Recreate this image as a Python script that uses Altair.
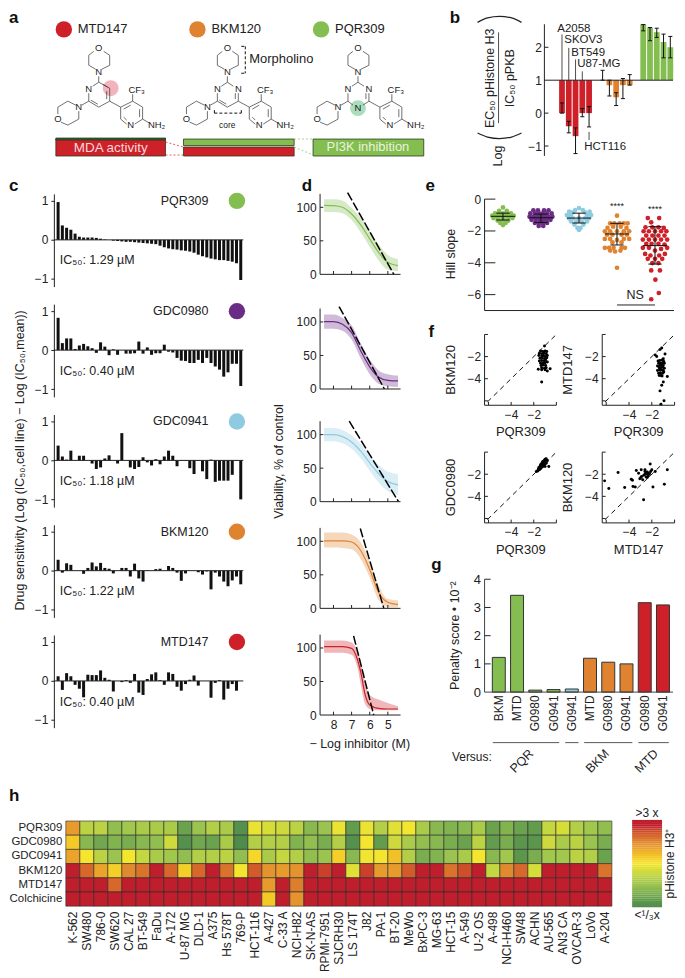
import altair as alt
import pandas as pd

INK = "#222222"
GREEN, PURPLE, BLUE, ORANGE, RED = "#84BD50", "#6B2C85", "#8FCBE0", "#E08330", "#CE2029"
FONT = "Liberation Sans"

# ---------- panel a: legend, molecule drawing in canvas units ----------
legend_a = [(63, 28, RED, "MTD147"), (197, 28, ORANGE, "BKM120"), (321, 28, GREEN, "PQR309")]
mol_dx = [0, 129, 260]
bonds_common = [(93,50,88,54),(88,54,88,64),(88,64,95,68),(101,68,109,64),(109,64,109,54),(109,54,103,50),
    (98,75,98,81),(88,100,81,104),(75,104,67,100),(67,100,57,106),(57,106,57,113),(60,121,67,124),
    (67,124,78,118),(78,118,78,110),(109,100,120,106),(120,106,132,100),(132,100,142,106),(142,106,142,118),
    (142,118,134,123),(126,123,120,118),(120,118,120,106),(132,100,132,93),(142,118,149,122),
    (123,108,130,104),(139,108,139,116),(123,116,126,119),(88,92,88,100)]
bonds_ring = [
    [(98,81,92,85),(98,81,109,87),(109,87,109,100),(109,100,98,106),(98,106,88,100),(102,83,107,86),(106,90,106,98),(97,103,90,99)],
    [(98,81,92,85),(98,81,104,85),(109,92,109,100),(109,100,98,106),(98,106,88,100),(106,92,106,98),(97,103,90,99)],
    [(98,81,92,85),(98,81,104,85),(109,92,109,100),(109,100,103,104),(93,104,88,100),(106,92,106,98)],
]
atoms_common = [(98,47,"O"),(98,71,"N"),(88,88,"N"),(57,118,"O"),(78,106,"N"),(136,89,"CF₃"),(130,124,"N"),(156,124,"NH₂")]
atoms_extra = [[], [(109,88,"N")], [(109,88,"N"),(98,107,"N")]]
highlights = [(110,87,"#F3B3BC"),(358,107,"#A9DDBB")]
boxes_a = [(55,165,138,155,RED),(55,165,137,139,"#2E5E2A"),(183,294,138,144.5,GREEN),(183,294,146,155,RED),(313,424,138,155,GREEN)]
links_red = [(165,141,183,146),(165,154,183,154)]
links_green = [(294,138,313,138),(294,146,313,154)]
brackets = [(245,45,245,72),(214,112,241,112)]
bracket_ticks = [(241,45,245,45),(241,72,245,72),(214,112,214,109),(241,112,241,109)]
labels_a = [(249,58,"Morpholino",13,"left","#222222"),(227,124,"core",8.5,"center","#222222"),
            (110,147,"MDA activity",13.5,"center","#F6D9D9"),(368,146,"PI3K inhibition",13,"center","#EAF3DE")]

# ---------- panel b ----------
b_pos = [0,1,2,3,4,6,7,8,9,10,12,13,14,15,16]
b_val = [0.0,-0.4,-0.7,0.0,0.0,1.0,0.85,0.48,0.85,0.85,2.7,2.6,2.46,2.16,2.0]
b_lo  = [-0.0,-0.6,-1.23,-0.11,-0.42,1.0,0.52,0.23,0.44,0.85,2.5,2.2,2.3,1.68,1.68]
b_hi  = [0.31,-0.25,-0.45,0.14,0.2,1.3,1.0,0.62,1.05,1.17,2.69,2.6,2.58,2.4,2.33]
b_col = [RED]*5+[ORANGE]*5+[GREEN]*5
b_lbl = [(-0.69,2.55,"A2058"),(0.34,2.21,"SKOV3"),(1.37,1.82,"BT549"),(2.25,1.48,"U87-MG"),(3.28,-1.03,"HCT116")]
b_lines = [(0,2.39,0,1),(1,1.98,1,1),(2,1.63,2,1),(3,1.27,3,1),(4,-0.57,4,-0.82)]

# ---------- panel c ----------
c_names = ["PQR309","GDC0980","GDC0941","BKM120","MTD147"]
c_cols = [GREEN,PURPLE,BLUE,ORANGE,RED]
c_ic = ["1.29","0.40","1.18","1.22","0.40"]
c_vals = [
 [.97,.37,.31,.26,.16,.08,.06,.06,.06,.05,.03,.01,0,-.02,-.03,-.04,-.05,-.05,-.06,-.07,-.08,-.09,-.1,-.11,-.15,-.19,-.22,-.24,-.25,-.27,-.28,-.3,-.33,-.38,-.42,-.45,-.48,-.5,-.52,-.52,-.54,-.56,-.6,-1.03],
 [.83,.18,.3,.3,.03,.12,.16,.1,.05,-.07,.2,.09,-.13,.02,-.12,0,-.09,-.09,-.08,.22,-.09,.07,-.12,-.08,-.08,.14,-.04,-.06,-.2,-.27,-.28,-.33,-.33,-.25,-.33,-.2,-.33,-.42,-.5,-.68,-.57,-.35,-.35,-.92],
 [.38,.1,.02,.25,0,.12,.12,0,-.08,-.22,-.18,.05,.13,0,-.08,.7,0,-.18,-.22,-.17,.08,-.05,-.13,.03,-.1,.1,.25,.12,-.15,-.01,-.01,-.2,-.35,-.01,-.28,-.48,.02,-.55,-.52,-.52,-.52,-.37,-.01,-1.0],
 [.28,-.05,.19,.15,0,0,-.08,.07,.21,.11,.2,.07,.05,-.07,0,.07,.07,-.15,.18,-.2,-.28,.01,0,.04,.05,0,.12,.07,-.05,-.26,-.07,0,0,-.04,-.1,-.02,-.48,-.05,-.15,-.28,-.4,-.25,-.15,-.35],
 [.12,-.23,.2,.12,-.1,-.2,-.42,.16,.15,.15,.27,.08,.03,-.27,0,-.03,.02,-.05,.18,-.3,-.36,.05,.17,.22,.02,-.1,.22,.18,-.15,-.25,-.08,.03,.14,-.12,0,0,-.43,-.05,.02,-.48,-.2,-.08,-.25,0],
]

# ---------- panel d ----------
d_x = [8.52,8,7.5,7,6.48,6,5.52,5,4.44]
d_y = [[103,102.5,100,90,73,53,33,18,13],[100.5,100.5,96.5,84,56,33,18,13,12],[100,100,97,89,75,58,42,30,25],
       [100.5,100.5,100.5,99,85.6,58,24,9,5.5]]
d_lo = [[93,93,91,81,62,41,21,7,5],[90,90,87,74,45,22,8,4,3],[90,90,87,79,64,46,29,16,10],[90.6,90.6,90,88,73,46,13,2,1.5]]
d_hi = [[112,112,110,99,84,65,45,29,23],[111,111,106,95,67,44,28,22,20],[110,110,107,99,86,70,55,45,41],[113,113,113,110,98,70,35,14,12]]
d5_x = [8.52,8,7.5,7,6.67,6.48,6.25,6,5.52,5,4.44]
d5_y = [102,102,102,99.5,82,62,30,15,10,9,9]
d5_lo = [93,93,93,90,70,43,16,9,7,7,7]
d5_hi = [111,111,111,108,95,79,48,30,23,18,13]
d_dash = [(7.22,122,4.67,0),(7.69,123,5.19,0),(7.13,120,4.41,0),(6.52,119,5.22,0),(6.89,118,5.78,0)]

# ---------- panel e ----------
e_green = [(0,-.52),(-.1,-.73),(.1,-.73),(-.21,-.9),(-.1,-.9),(0,-.9),(.1,-.9),(.21,-.9),(-.28,-1.04),(-.18,-1.04),(-.07,-1.04),(.07,-1.04),(.18,-1.04),(.28,-1.04),(-.25,-1.19),(-.14,-1.19),(0,-1.19),(.14,-1.19),(.25,-1.19),(-.14,-1.35),(-.04,-1.35),(.04,-1.35),(.14,-1.35),(-.07,-1.5),(.07,-1.5),(0,-1.63)]
e_purple = [(-.2,-.7),(-.08,-.7),(.08,-.7),(.2,-.7),(-.28,-.9),(-.16,-.9),(-.05,-.9),(.05,-.9),(.16,-.9),(.28,-.9),(-.3,-1.1),(-.2,-1.1),(-.1,-1.1),(0,-1.1),(.1,-1.1),(.2,-1.1),(.3,-1.1),(-.25,-1.3),(-.14,-1.3),(-.04,-1.3),(.06,-1.3),(.15,-1.3),(.25,-1.3),(-.16,-1.5),(-.05,-1.5),(.05,-1.5),(.16,-1.5),(-.06,-1.68),(.06,-1.68)]
e_blue = [(0,-.56),(-.1,-.69),(.1,-.69),(-.26,-.79),(-.16,-.83),(.16,-.83),(.28,-.79),(-.32,-1.0),(-.21,-1.0),(.21,-1.0),(.32,-1.0),(-.26,-1.21),(-.16,-1.21),(0,-1.21),(.16,-1.21),(.26,-1.21),(-.21,-1.4),(-.07,-1.4),(.07,-1.4),(.21,-1.4),(-.12,-1.6),(.12,-1.6),(-.04,-1.81),(.04,-1.81),(0,-1.94)]
e_orange = [(0,-1.04),(-.18,-1.52),(-.07,-1.52),(.07,-1.52),(.18,-1.52),(.28,-1.52),(-.1,-1.73),(.1,-1.73),(-.25,-1.81),(.25,-1.81),(-.32,-2.02),(-.18,-2.02),(0,-2.02),(.18,-2.02),(.32,-2.02),(-.26,-2.23),(-.12,-2.23),(.12,-2.23),(.26,-2.23),(-.32,-2.5),(-.18,-2.5),(0,-2.56),(.18,-2.5),(.32,-2.5),(-.12,-2.71),(.12,-2.71),(-.32,-3.06),(-.21,-3.06),(-.09,-3.06),(.12,-3.06),(.21,-3.06),(-.18,-3.23),(-.05,-3.29),(.09,-3.23),(0,-4.31)]
e_red = [(-.19,-1.19),(.11,-1.19),(-.1,-1.46),(-.25,-1.77),(-.07,-1.77),(.09,-1.77),(.23,-1.81),(-.3,-2.02),(-.16,-2.02),(0,-2.02),(.16,-2.02),(.3,-2.02),(-.23,-2.29),(-.07,-2.29),(.09,-2.29),(.25,-2.29),(-.32,-2.54),(-.16,-2.54),(0,-2.54),(.16,-2.54),(.32,-2.54),(-.23,-2.81),(-.09,-2.81),(.09,-2.81),(.25,-2.85),(-.32,-3.06),(-.16,-3.06),(0,-3.23),(.16,-3.13),(.32,-3.06),(-.26,-3.44),(-.12,-3.54),(.11,-3.54),(.26,-3.44),(-.19,-3.75),(0,-3.75),(.19,-3.75),(-.07,-4.02),(.09,-4.02),(-.1,-4.48),(.13,-4.48),(.01,-5.06),(.1,-5.9),(-.1,-6.29)]
e_groups = [e_green,e_purple,e_blue,e_orange,e_red]
e_cols = [GREEN,PURPLE,BLUE,ORANGE,RED]
e_mean = [-1.08,-1.17,-1.19,-2.19,-2.92]
e_top = [-.88,-.94,-.88,-1.52,-1.73]
e_bot = [-1.31,-1.46,-1.5,-2.88,-4.08]

# ---------- panel f ----------
f1_x = [-1.05,-1.4,-1.2,-1.0,-.85,-1.5,-1.3,-1.1,-.9,-1.55,-1.3,-1.15,-1.0,-.8,-1.45,-1.25,-1.05,-.85,-1.5,-1.3,-1.1,-.95,-1.4,-1.2,-1.0,-.8,-1.35,-1.15,-.95,-1.3,-1.05,-.9,-1.6,-1.3,-1.0,-.8,-.55,-1.3]
f1_y = [-1.05,-1.5,-1.55,-1.5,-1.55,-1.7,-1.75,-1.7,-1.75,-1.9,-1.95,-1.9,-2.0,-1.9,-2.15,-2.1,-2.2,-2.1,-2.4,-2.35,-2.4,-2.3,-2.6,-2.6,-2.55,-2.5,-2.8,-2.75,-2.8,-3.0,-3.05,-3.0,-3.15,-3.2,-3.2,-3.3,-3.1,-4.3]
f2_x = [-1.13,-1.28,-1.7,-.84,-1.57,-.99,-1.45,-1.3,-1.1,-.95,-1.4,-1.2,-1.05,-.9,-1.5,-1.3,-1.15,-1.0,-1.35,-1.2,-1.05,-.9,-1.5,-1.3,-1.15,-1.0,-1.4,-1.25,-1.05,-.95,-1.35,-1.2,-1.1,-.64,-.99,-1.13,-1.28,-.93,-1.2]
f2_y = [-1.22,-1.37,-1.85,-1.76,-2.0,-2.2,-2.4,-2.35,-2.3,-2.45,-2.6,-2.6,-2.55,-2.6,-2.85,-2.8,-2.75,-2.8,-3.0,-3.0,-2.95,-3.05,-3.25,-3.2,-3.2,-3.25,-3.5,-3.45,-3.5,-3.4,-3.7,-3.7,-3.75,-3.8,-4.3,-4.6,-5.1,-6.0,-6.3]
f3_x = [-1.77,-1.65,-1.6,-1.5,-1.55,-1.4,-1.45,-1.35,-1.3,-1.4,-1.25,-1.2,-1.3,-1.15,-1.25,-1.1,-1.2,-1.05,-1.15,-1.0,-1.1,-.95,-1.05,-.9,-1.0,-.85,-.95,-.9,-.8,-.67,-1.35,-1.0]
f3_y = [-1.76,-1.7,-1.55,-1.6,-1.4,-1.5,-1.3,-1.4,-1.25,-1.15,-1.35,-1.2,-1.05,-1.25,-.95,-1.1,-.85,-1.2,-1.0,-1.05,-.8,-.9,-.75,-1.0,-.65,-.85,-.7,-.6,-.75,-1.3,-1.2,-1.3]
f4_x = [-6.14,-5.77,-4.96,-4.38,-3.8,-3.7,-3.65,-3.45,-3.36,-3.16,-2.93,-2.96,-2.8,-2.72,-2.6,-2.5,-2.43,-2.3,-2.14,-2.1,-2.0,-1.9,-1.7,-.9,-.64,-2.7,-2.6,-2.5,-2.4,-2.3,-2.6,-2.4,-2.2,-3.05,-2.9]
f4_y = [-2.6,-3.3,-1.85,-3.2,-2.45,-2.55,-3.1,-3.16,-1.67,-1.9,-1.6,-2.3,-2.5,-4.3,-1.6,-1.85,-1.97,-2.15,-1.07,-1.75,-1.6,-3.16,-1.76,-2.9,-1.6,-2.1,-2.0,-2.25,-2.3,-1.9,-1.75,-1.8,-1.95,-2.4,-2.2]
f_sets = [(f1_x,f1_y,"PQR309","BKM120"),(f2_x,f2_y,"PQR309","MTD147"),(f3_x,f3_y,"PQR309","GDC0980"),(f4_x,f4_y,"MTD147","BKM120")]

# ---------- panel g ----------
g_val = [1.23,3.43,.07,.09,.11,1.2,1.06,1.0,3.17,3.09]
g_lab = ["BKM","MTD","G0980","G0941","G0941","MTD","G0980","G0941","G0980","G0941"]
g_col = [GREEN]*4+[BLUE]+[ORANGE]*3+[RED]*2
g_groups = [(-.33,3.31),(3.64,4.37),(4.68,7.32),(7.65,9.32)]
g_names = [(1.26,"PQR"),(5.41,"BKM"),(8.1,"MTD")]

# ---------- panel h ----------
h_cols = ["K-562","SW480","786-0","SW620","CAL 27","BT-549","FaDu","A-172","U-87 MG","DLD-1","A375","Hs 578T","769-P","HCT-116","A-427","C-33 A","NCI-H82","SK-N-AS","RPMI-7951","SJCRH30","LS 174T","J82","PA-1","BT-20","MeWo","BxPC-3","MG-63","HCT-15","A-549","U-2 OS","A-498","NCI-H460","SW48","ACHN","AU-565","AN3 CA","OVCAR-3","LoVo","A-204"]
h_rows = ["PQR309","GDC0980","GDC0941","BKM120","MTD147","Colchicine"]
h_vals = [
 [.4,-.3,-.3,-.55,-.45,-.4,-.4,-.4,-.8,-.5,-.35,-.4,-.95,-.05,-.15,-.2,-.3,-.6,-.5,-.05,-.85,-.05,-.35,-.1,0,-.4,-.6,-.65,-.6,-.4,-.8,-.65,-.8,-.85,-.25,-.15,-.35,-.45,-.55],
 [.15,-.6,-.75,-.65,-.7,-.6,-.55,-.2,-.95,-.75,-.8,-.4,-1,-.35,-.35,-.35,-.65,-.55,-.7,-.35,-.95,0,-.85,-.2,-.4,-.55,-.6,-.7,-.8,-.3,-.85,-.7,-.9,-.9,-.2,-.4,-.3,-.5,-.7],
 [.35,0,-.3,-.5,0,-.25,-.4,-.45,-.55,-.35,-.35,-.3,-.55,.08,-.4,-.25,-.35,-.55,-.5,.12,-.6,-.02,0,.2,-.35,-.7,-.65,-.5,-.4,0,-.6,-.45,-.9,-.7,-.45,-.45,-.3,-.35,-.8],
 [.95,.65,.35,.12,.5,.6,.95,.65,.12,.65,.95,.6,0,.7,.45,.4,.45,.95,.8,.95,-.1,.8,.4,.4,.7,.95,.95,.6,.75,.95,-.25,.5,.65,-.15,.95,.95,.95,.95,.6],
 [.95,.95,.95,.65,.95,.95,.95,.95,.95,.95,.95,.95,.95,.95,.4,.95,.55,.95,.95,.95,.95,.95,.95,.95,.95,.95,.95,.95,.95,.95,.95,.95,.95,.95,.95,.95,.95,.95,.95],
 [.95,.95,.95,.95,.95,.95,.95,.95,.95,.95,.95,.95,.95,.95,.15,.95,.45,.95,.95,.95,.95,.95,.95,.95,.95,.95,.95,.95,.95,.95,.95,.95,.95,.95,.95,.95,.95,.95,.95],
]
h_levels = [-1,-.95,-.9,-.85,-.8,-.75,-.7,-.65,-.6,-.55,-.5,-.45,-.4,-.35,-.3,-.25,-.2,-.15,-.1,-.05,0,.05,.1,.15,.2,.25,.3,.35,.4,.45,.5,.55,.6,.65,.7,.75,.8,.85,.9,.95,1]
h_domain = [-1,-.5,0,.5,.9]
h_range = ["#4F8B4B","#9BC350","#F4E62E","#E08A30","#BF1E2D"]


# ---------- helpers ----------
def S(lo, hi):
    return alt.Scale(domain=[lo, hi], nice=False, zero=False, padding=0)

def X(xs, axis=None, f="x"):
    return alt.X(f"{f}:Q", scale=xs, axis=axis)

def Y(ys, axis=None, f="y"):
    return alt.Y(f"{f}:Q", scale=ys, axis=axis)

def stack(*layers, **props):
    return alt.layer(*layers).resolve_axis(x="independent", y="independent").properties(**props)

def rules(rows, xs, ys, color=INK, w=1.0, dash=None, ax=None, ay=None, op=1):
    df = pd.DataFrame(rows, columns=["x", "y", "x2", "y2"])
    kw = {"color": color, "strokeWidth": w, "opacity": op}
    if dash:
        kw["strokeDash"] = dash
    return alt.Chart(df).mark_rule(**kw).encode(x=X(xs, ax), y=Y(ys, ay), x2="x2:Q", y2="y2:Q")

def texts(rows, xs, ys, size=12, align="left", angle=0, color=INK, bold=False):
    df = pd.DataFrame(rows, columns=["x", "y", "t"])
    kw = dict(fontSize=size, align=align, baseline="middle", color=color, font=FONT)
    if angle:
        kw["angle"] = angle
    if bold:
        kw["fontWeight"] = "bold"
    return alt.Chart(df).mark_text(**kw).encode(x=X(xs), y=Y(ys), text="t:N")

def dots(rows, xs, ys, size, color=None, op=1):
    df = pd.DataFrame(rows, columns=["x", "y", "c"])
    return alt.Chart(df).mark_circle(size=size, opacity=op).encode(
        x=X(xs), y=Y(ys), color=alt.Color("c:N", scale=None))

def curve(pts, xs, ys, color=INK, w=1.0):
    df = pd.DataFrame(pts, columns=["x", "y"])
    df["o"] = range(len(df))
    return alt.Chart(df).mark_line(color=color, strokeWidth=w, interpolate="monotone").encode(
        x=X(xs), y=Y(ys), order="o:Q")

def letter(ch, x, y, xs, ys):
    return texts([(x, y, ch)], xs, ys, size=17, bold=True, color="#111111")

def gap(w=1, h=1):
    return alt.Chart(pd.DataFrame({"a": [0]})).mark_point(opacity=0, size=1).properties(width=w, height=h)

def yax(values, pad=3, labels=True, size=12):
    return alt.Axis(values=values, title=None, domain=False, ticks=False, grid=False, labels=labels,
                    labelPadding=pad, labelFontSize=size, labelFont=FONT, labelColor=INK)

def xax(values, pad=3, labels=True, size=12):
    return alt.Axis(values=values, title=None, domain=False, ticks=False, grid=False, labels=labels,
                    labelPadding=pad, labelFontSize=size, labelFont=FONT, labelColor=INK, labelAngle=0)

# ---------- panel a + left annotations of b ----------
cx, cy = S(8, 545), S(168, 8)
a_layers = []
a_layers.append(dots([(110, 87, highlights[0][2]), (358, 107, highlights[1][2])], cx, cy, 254))
a_layers.append(dots([(l[0], l[1], l[2]) for l in legend_a], cx, cy, 270))
a_layers.append(texts([(l[0] + 14, l[1], l[3]) for l in legend_a], cx, cy, size=13))
seg = []
for k, dx in enumerate(mol_dx):
    for b in bonds_common + bonds_ring[k]:
        seg.append((b[0] + dx, b[1], b[2] + dx, b[3]))
a_layers.append(rules(seg, cx, cy, color="#333333", w=0.7))
at = []
for k, dx in enumerate(mol_dx):
    for a in atoms_common + atoms_extra[k]:
        at.append((a[0] + dx, a[1], a[2]))
a_layers.append(texts(at, cx, cy, size=9.5, align="center"))
df_box = pd.DataFrame(boxes_a, columns=["x", "x2", "y", "y2", "c"])
a_layers.append(alt.Chart(df_box).mark_rect(stroke="#2b3a20", strokeWidth=0.8).encode(
    x=X(cx), x2="x2:Q", y=Y(cy), y2="y2:Q", color=alt.Color("c:N", scale=None)))
a_layers.append(rules(links_red, cx, cy, color=RED, w=0.7, dash=[2, 2]))
a_layers.append(rules(links_green, cx, cy, color=GREEN, w=0.7, dash=[2, 2]))
a_layers.append(rules(brackets + bracket_ticks, cx, cy, color="#111111", w=1, dash=[3, 2]))
for l in labels_a:
    a_layers.append(texts([(l[0], l[1], l[2])], cx, cy, size=l[3], align=l[4], color=l[5]))
a_layers.append(letter("a", 8, 17, cx, cy))
a_layers.append(letter("b", 450, 17, cx, cy))
a_layers.append(texts([(490, 77, "EC₅₀ pHistone H3")], cx, cy, size=12.5, align="center", angle=270))
a_layers.append(texts([(511, 77, "IC₅₀ pPKB")], cx, cy, size=12.5, align="center", angle=270))
a_layers.append(texts([(498, 155, "Log")], cx, cy, size=12.5, align="center", angle=270))
a_layers.append(rules([(499, 31, 499, 122)], cx, cy, w=0.8))
a_layers.append(curve([(478, 21), (488, 16.5), (500, 15), (512, 16.5), (522, 21)], cx, cy, w=1.2))
a_layers.append(curve([(478, 132), (488, 136), (500, 137.5), (512, 136), (522, 132)], cx, cy, w=1.2))
panel_a = stack(*a_layers, width=537, height=160)

# ---------- panel b ----------
bx, by = S(-2.6, 16.4), S(-1.697, 3.15)
df_b = pd.DataFrame({"x": b_pos, "y": b_val, "b": 1, "c": b_col})
b_bars = alt.Chart(df_b).mark_bar(size=5.8, orient="vertical").encode(
    x=X(bx), y=Y(by, yax([-1, 0, 1, 2], pad=3)), y2="b:Q", color=alt.Color("c:N", scale=None))
err = [(p, lo, p, hi) for p, lo, hi in zip(b_pos, b_lo, b_hi)]
caps = [(p - .3, v, p + .3, v) for p, lo, hi in zip(b_pos, b_lo, b_hi) for v in (lo, hi)]
panel_b = stack(
    b_bars,
    rules(err + caps, bx, by, color="#111111", w=1),
    rules([(-2.6, -1.3, -2.6, 2.7)], bx, by, w=1),
    rules([(-2.6, v, -2.0, v) for v in (-1, 0, 2)], bx, by, w=1),
    rules([(-2.6, 1, 16.4, 1)], bx, by, w=1),
    rules(b_lines, bx, by, w=0.8),
    texts(b_lbl, bx, by, size=11.5),
    width=129, height=160)

top_row = alt.hconcat(panel_a, panel_b, spacing=0, bounds="flush")

# ---------- panel c ----------
def panel_c(i):
    xs, ys = S(-1, 43.6), S(-1.2, 1.18)
    df = pd.DataFrame({"x": range(44), "y": c_vals[i], "b": 0})
    bars = alt.Chart(df).mark_bar(size=3, color="#111111", orient="vertical").encode(
        x=X(xs),
        y=alt.Y("y:Q", scale=ys, axis=alt.Axis(values=[-1, 0, 1], title=None, grid=False, tickSize=3,
                tickColor=INK, domainColor=INK, labelPadding=3, labelFontSize=12, labelFont=FONT, labelColor=INK)),
        y2="b:Q")
    layers = [bars, rules([(-1, 0, 43.6, 0)], xs, ys, w=1),
              texts([(35.4, 1, c_names[i])], xs, ys, size=12.5, align="right"),
              dots([(42.1, 1, c_cols[i])], xs, ys, 270),
              texts([(0.4, -.53, f"IC₅₀: {c_ic[i]} µM")], xs, ys, size=12.5)]
    if i == 0:
        layers.append(letter("c", -11.57, 1.385, xs, ys))
    if i == 2:
        layers.append(texts([(-9, 0, "Drug sensitivity (Log (IC₅₀,cell line) − Log (IC₅₀,mean))")],
                            xs, ys, size=12.5, align="center", angle=270))
    return stack(*layers, width=190, height=93)

col_c = alt.vconcat(panel_c(0), panel_c(1), panel_c(2), panel_c(3), panel_c(4), spacing=17.6, bounds="flush")

# ---------- panel d ----------
def panel_d(i):
    xs, ys = S(8.74, 4.3), S(0, 120)
    if i < 4:
        df = pd.DataFrame({"x": d_x, "y": d_y[i], "lo": d_lo[i], "hi": d_hi[i]})
    else:
        df = pd.DataFrame({"x": d5_x, "y": d5_y, "lo": d5_lo, "hi": d5_hi})
    col = c_cols[i]
    band = alt.Chart(df).mark_area(color=col, opacity=.32, interpolate="monotone", orient="vertical").encode(
        x=X(xs, xax([8, 7, 6, 5], pad=5, labels=i == 4)),
        y=alt.Y("hi:Q", scale=ys, axis=yax([0, 50, 100], pad=4)), y2="lo:Q")
    line = alt.Chart(df).mark_line(color=col, strokeWidth=1.2, interpolate="monotone").encode(x=X(xs), y=Y(ys))
    layers = [band, line,
              rules([d_dash[i]], xs, ys, color="#000000", w=1.5, dash=[9, 2.5]),
              rules([(8.74, 0, 4.3, 0), (8.74, 0, 8.74, 120)], xs, ys, w=1),
              rules([(v, 0, v, 5) for v in (8, 7, 6, 5)], xs, ys, w=1),
              rules([(8.74, v, 8.56, v) for v in (50, 100)], xs, ys, w=1)]
    if i == 0:
        layers.append(letter("d", 9.75, 132, xs, ys))
    if i == 2:
        layers.append(texts([(11.0, 60, "Viability, % of control")], xs, ys, size=12.5, align="center", angle=270))
    if i == 4:
        layers.append(texts([(6.55, -43, "− Log inhibitor (M)")], xs, ys, size=12.5, align="center"))
    return stack(*layers, width=80.7, height=80.7)

col_d = alt.vconcat(panel_d(0), gap(1, 33.3), panel_d(1), gap(1, 32), panel_d(2), gap(1, 25.3),
                    panel_d(3), gap(1, 25.3), panel_d(4), spacing=0, bounds="flush")

# ---------- panel e ----------
ex, ey = S(-.484, 4.5), S(-7, .33)
e_layers = []
first = True
for g, pts in enumerate(e_groups):
    df = pd.DataFrame({"x": [g + p[0] for p in pts], "y": [p[1] for p in pts]})
    e_layers.append(alt.Chart(df).mark_circle(size=22, opacity=1, color=e_cols[g]).encode(
        x=X(ex), y=Y(ey, yax([0, -2, -4, -6], pad=4) if first else None)))
    first = False
e_seg = []
for g in range(5):
    e_seg += [(g, e_top[g], g, e_bot[g]), (g - .175, e_top[g], g + .175, e_top[g]),
              (g - .175, e_bot[g], g + .175, e_bot[g]), (g - .32, e_mean[g], g + .32, e_mean[g])]
e_layers += [rules(e_seg, ex, ey, color="#111111", w=1),
             rules([(-.484, 0, -.484, -7), (-.484, -7, 4.5, -7)], ex, ey, w=1),
             rules([(-.484, v, -.2, v) for v in (0, -2, -4, -6)], ex, ey, w=1),
             rules([(3, -6.65, 4, -6.65)], ex, ey, w=1),
             texts([(3, -.42, "****"), (4, -.6, "****")], ex, ey, size=9, align="center"),
             texts([(3.48, -6.0, "NS")], ex, ey, size=12.5, align="center"),
             texts([(-1.37, -3.45, "Hill slope")], ex, ey, size=12.5, align="center", angle=270),
             letter("e", -2.04, .83, ex, ey)]
panel_e = stack(*e_layers, width=190, height=117)

# ---------- panel f ----------
def panel_f(i, w):
    fx, fy = S(-6.35, 0), S(-6.4, 0)
    xv, yv, xt, yt = f_sets[i]
    df = pd.DataFrame({"x": xv, "y": yv})
    pts = alt.Chart(df).mark_circle(size=9, opacity=1, color="#000000").encode(
        x=X(fx, xax([-4, -2], pad=4)), y=Y(fy, yax([-2, -4], pad=4)))
    layers = [pts,
              rules([(-6.1, -6.1, .1, .1)], fx, fy, color="#111111", w=1, dash=[5, 4]),
              rules([(-6.35, -6.4, 0, -6.4), (-6.35, -6.4, -6.35, 0)], fx, fy, w=1),
              rules([(v, -6.4, v, -6.1) for v in (-6, -4, -2, 0)], fx, fy, w=1),
              rules([(-6.35, v, -6.05, v) for v in (-6, -4, -2, 0)], fx, fy, w=1),
              texts([(-3.15, -8.85, xt)], fx, fy, size=13, align="center"),
              texts([(-9.35, -3.2, yt)], fx, fy, size=13, align="center", angle=270)]
    if i == 0:
        layers.append(letter("f", -11.3, .2, fx, fy))
    return stack(*layers, width=w, height=71)

f_row1 = alt.hconcat(panel_f(0, 72), gap(45.7, 1), panel_f(1, 72.6), spacing=0, bounds="flush")
f_row2 = alt.hconcat(panel_f(2, 72), gap(45.7, 1), panel_f(3, 72.6), spacing=0, bounds="flush")

# ---------- panel g ----------
gx, gy = S(-.78, 9.55), S(-3.12, 4.654)
df_g = pd.DataFrame({"x": range(10), "y": g_val, "b": 0, "c": g_col, "t": g_lab})
g_bars = alt.Chart(df_g).mark_bar(size=13, stroke="#333333", strokeWidth=1, orient="vertical").encode(
    x=X(gx), y=Y(gy, yax([0, 1, 2, 3, 4], pad=4, size=13)), y2="b:Q", color=alt.Color("c:N", scale=None))
panel_g = stack(
    g_bars,
    rules([(-.78, 0, 9.55, 0), (-.78, 0, -.78, 4)], gx, gy, w=1, color="#444444"),
    rules([(-.78, v, -.45, v) for v in (1, 2, 3, 4)], gx, gy, w=1),
    texts([(i, -.117, g_lab[i]) for i in range(10)], gx, gy, size=12, align="right", angle=270),
    rules([(a, -1.79, b, -1.79) for a, b in g_groups], gx, gy, w=0.9, color="#444444"),
    texts([(p, -2.45, t) for p, t in g_names], gx, gy, size=12.5, align="center", angle=315),
    texts([(-2.57, -2.3, "Versus:")], gx, gy, size=12),
    texts([(-2.39, 2.0, "Penalty score • 10⁻²")], gx, gy, size=12.5, align="center", angle=270),
    letter("g", -3.7, 4.5, gx, gy),
    width=189, height=220)

# nested concats count as zero-sized in a flush layout, so the gaps carry their full extent
col_r = alt.vconcat(panel_e, gap(1, 23.3), f_row1, gap(1, 71 + 46.4), f_row2, gap(1, 72 + 37), panel_g,
                    spacing=0, bounds="flush")

mid_row = alt.hconcat(gap(45, 1), col_c, gap(190 + 76.3, 1), col_d, gap(80.7 + 84, 1), col_r, spacing=0, bounds="flush")

# ---------- panel h ----------
rows = []
for r, vals in zip(h_rows, h_vals):
    for c, v in zip(h_cols, vals):
        rows.append({"c": c, "r": r, "v": v})
hscale = alt.Scale(domain=h_domain, range=h_range, clamp=True)
heat = alt.Chart(pd.DataFrame(rows)).mark_rect(stroke="#2a2a2a", strokeWidth=0.6).encode(
    x=alt.X("c:N", sort=h_cols, axis=alt.Axis(title=None, domain=False, ticks=False, labelAngle=270, labelPadding=5,
            labelFontSize=12, labelFont=FONT, labelColor=INK, labelLimit=200)),
    y=alt.Y("r:N", sort=h_rows, axis=alt.Axis(title=None, domain=False, ticks=False, labelPadding=4,
            labelFontSize=11.5, labelFont=FONT, labelColor=INK)),
    color=alt.Color("v:Q", scale=hscale, legend=None),
).properties(width=547.7, height=85.4)

bar_x, bar_y = S(0, 1), S(-1, 1)
df_lv = pd.DataFrame({"v": h_levels})
df_lv["x"] = 0
df_lv["x2"] = 1
df_lv["y"] = df_lv.v - .026
df_lv["y2"] = df_lv.v + .026
cbar = stack(
    alt.Chart(df_lv).mark_rect().encode(x=X(bar_x), x2="x2:Q", y=Y(bar_y), y2="y2:Q",
                                        color=alt.Color("v:Q", scale=hscale, legend=None)),
    texts([(.5, 1.19, ">3 x"), (.5, -1.2, "<¹/₃x")], bar_x, bar_y, size=12, align="center"),
    texts([(1.27, 0, "pHistone H3⁺")], bar_x, bar_y, size=12, align="center", angle=270),
    width=30, height=85.4)

h_letter_x, h_letter_y = S(0, 57), S(0, 85.4)
h_side = texts([(-0.0, 110, "h")], h_letter_x, h_letter_y, size=17, bold=True, color="#111111").properties(width=57, height=85.4)

h_row = alt.hconcat(h_side, heat, gap(20, 1), cbar, spacing=0, bounds="flush")

chart = alt.vconcat(top_row, gap(1, 185), mid_row, gap(1, 629), h_row, spacing=0, bounds="flush").properties(
    padding=0
).configure(font=FONT).configure_view(stroke=None)

chart.save("out.html", embed_options={"renderer": "svg", "actions": False})
